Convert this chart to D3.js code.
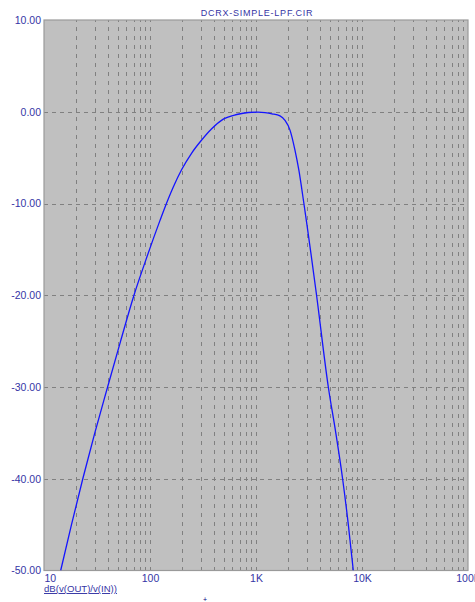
<!DOCTYPE html>
<html>
<head>
<meta charset="utf-8">
<script src="https://cdn.jsdelivr.net/npm/d3@7"></script>
<style>
  html, body { margin: 0; padding: 0; background: #ffffff; }
  svg { display: block; }
  text { font-family: "Liberation Sans", Arial, sans-serif; }
</style>
</head>
<body>
<svg id="chart" width="475" height="602"></svg>
<script>
// ---- data ----
const title = "DCRX-SIMPLE-LPF.CIR";
const traceName = "dB(v(OUT)/v(IN))";
const freqHz = [14.37, 18.17, 23.23, 30.16, 39.81, 52.8, 70.6, 91.1, 124.3, 138.5, 165.9, 199.1, 247.4, 296.4, 382, 491.4, 657.7, 846, 1044, 1216, 1416, 1684, 1877, 2093, 2323, 2540, 2806, 3014, 3303, 3698, 4810, 5659, 6561, 7428, 8279];
const gainDb = [-50, -45, -40, -35, -30, -25, -20, -16.2, -11.84, -10.4, -8.2, -6.3, -4.5, -3.3, -1.85, -0.8, -0.3, -0.08, -0.05, -0.1, -0.22, -0.45, -0.95, -2.0, -4.1, -6.4, -9.7, -12.2, -15.5, -19.7, -30, -35, -40, -45, -50];
const xTickValues = [10, 100, 1000, 10000, 100000];
const xTickLabels = ["10", "100", "1K", "10K", "100K"];
const yTickValues = [10, 0, -10, -20, -30, -40, -50];
const yTickLabels = ["10.00", "0.00", "-10.00", "-20.00", "-30.00", "-40.00", "-50.00"];

// ---- layout ----
const pLeft = 44, pRight = 468, pTop = 20, pBottom = 570.5;
const textColor = "#3535a5";

const svg = d3.select("#chart");
const x = d3.scaleLog().domain([10, 100000]).range([pLeft, pRight]);
const y = d3.scaleLinear().domain([-50, 10]).range([pBottom, pTop]);

// plot background
svg.append("rect")
  .attr("x", pLeft).attr("y", pTop)
  .attr("width", pRight - pLeft).attr("height", pBottom - pTop)
  .attr("fill", "#c0c0c0");

// vertical grid (2..10 in every decade)
const gridX = [];
for (let dec = 10; dec < 100000; dec *= 10) {
  for (let m = 2; m <= 10; m++) {
    const v = dec * m;
    if (v < 100000) gridX.push(v);
  }
}
svg.append("g")
  .attr("transform", `translate(0,${pBottom})`)
  .call(d3.axisBottom(x).tickValues(gridX).tickFormat("").tickSize(-(pBottom - pTop)).tickSizeOuter(0))
  .call(g => g.select(".domain").remove())
  .call(g => g.selectAll("line")
    .attr("stroke", "#808080").attr("stroke-width", 1)
    .attr("stroke-dasharray", "4,5")
    .attr("shape-rendering", "crispEdges"));

// horizontal grid
svg.append("g")
  .attr("transform", `translate(${pLeft},0)`)
  .call(d3.axisLeft(y).tickValues(yTickValues.filter(v => v > -50 && v < 10)).tickFormat("").tickSize(-(pRight - pLeft)).tickSizeOuter(0))
  .call(g => g.select(".domain").remove())
  .call(g => g.selectAll("line")
    .attr("stroke", "#808080").attr("stroke-width", 1)
    .attr("stroke-dasharray", "4,4")
    .attr("shape-rendering", "crispEdges"));

// border
svg.append("rect")
  .attr("x", pLeft).attr("y", pTop)
  .attr("width", pRight - pLeft).attr("height", pBottom - pTop)
  .attr("fill", "none").attr("stroke", "#9a9a9a").attr("stroke-width", 1.2);

// clip
svg.append("clipPath").attr("id", "plotclip")
  .append("rect").attr("x", pLeft).attr("y", pTop)
  .attr("width", pRight - pLeft).attr("height", pBottom - pTop);

// trace
const pts = freqHz.map((f, i) => [f, gainDb[i]]);
const line = d3.line()
  .x(d => x(d[0])).y(d => y(d[1]))
  .curve(d3.curveMonotoneX);
svg.append("path")
  .datum(pts)
  .attr("clip-path", "url(#plotclip)")
  .attr("d", line)
  .attr("fill", "none")
  .attr("stroke", "#1414ff")
  .attr("stroke-width", 1.3);

// y labels
const yAxis = svg.append("g")
  .attr("transform", `translate(${pLeft},0)`)
  .call(d3.axisLeft(y).tickValues(yTickValues)
    .tickFormat((d, i) => yTickLabels[i]).tickSize(0).tickPadding(3))
  .call(g => g.select(".domain").remove());
yAxis.selectAll("text")
  .attr("fill", textColor)
  .style("font-family", "'Liberation Sans', Arial, sans-serif")
  .style("font-size", "10.5px");

// x labels
const xAxis = svg.append("g")
  .attr("transform", `translate(0,${pBottom})`)
  .call(d3.axisBottom(x).tickValues(xTickValues)
    .tickFormat((d, i) => xTickLabels[i]).tickSize(0).tickPadding(4))
  .call(g => g.select(".domain").remove());
xAxis.selectAll("text")
  .attr("fill", textColor)
  .style("font-family", "'Liberation Sans', Arial, sans-serif")
  .style("font-size", "10.5px")
  .attr("text-anchor", (d, i) => i === 0 ? "start" : "middle");

// title
svg.append("text")
  .attr("x", (pLeft + pRight) / 2 + 1)
  .attr("y", 16)
  .attr("text-anchor", "middle")
  .attr("fill", textColor)
  .style("font-size", "9px")
  .style("letter-spacing", "0.75px")
  .text(title);

// trace name (underlined)
svg.append("text")
  .attr("x", pLeft)
  .attr("y", 592)
  .attr("fill", textColor)
  .style("font-size", "9.6px")
  .style("text-decoration", "underline")
  .text(traceName);

// tiny cursor mark
svg.append("text")
  .attr("x", 203)
  .attr("y", 602)
  .attr("fill", "#000080")
  .style("font-size", "7px")
  .text("+");
</script>
</body>
</html>
